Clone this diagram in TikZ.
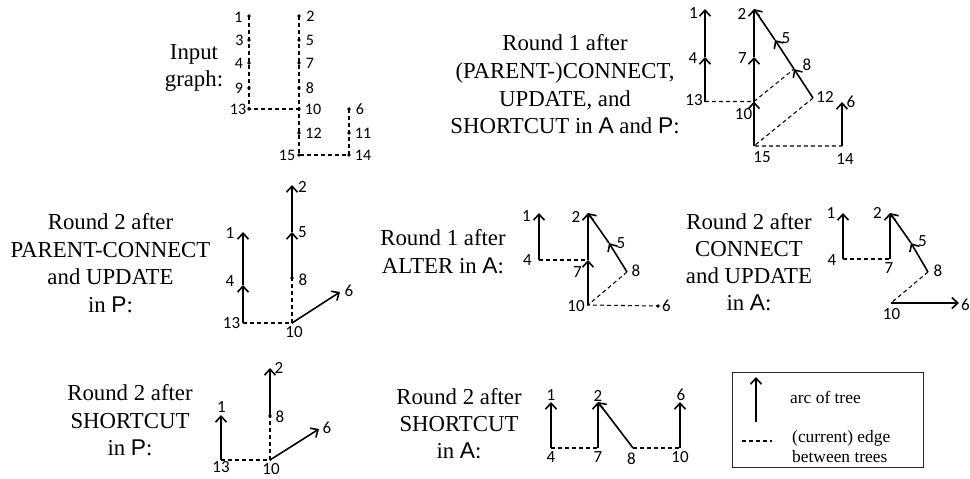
\documentclass[tikz,border=0pt]{standalone}
\usepackage{fontspec}
\setmainfont{Liberation Serif}
\newfontfamily\numfont{Carlito}
\newfontfamily\arialfont{Liberation Sans}
\usetikzlibrary{arrows.meta,calc}
\newcommand{\sfA}{{\arialfont A}}
\newcommand{\sfP}{{\arialfont P}}
\newcommand{\vtx}[4]{\coordinate (#1) at (#2); \node[num] (#1-l) at ($(#1)+(#4)$) {#3};}
\begin{document}
\begin{tikzpicture}[x=1pt,y=-1pt,
  ttl/.style={font=\rmfamily\fontsize{22.8}{27}\selectfont, anchor=base, inner sep=0pt},
  lgd/.style={font=\rmfamily\fontsize{17.4}{20}\selectfont, anchor=base west, inner sep=0pt},
  num/.style={font=\numfont\fontsize{17}{17}\selectfont, inner sep=0pt},
  arc/.style={line width=1.6pt, -{Straight Barb[length=6pt,width=11pt]}},
  cur/.style={line width=1.05pt, dash pattern=on 4pt off 3pt},
  vdot/.style={circle, fill, inner sep=0pt, minimum size=3.6pt}]
\useasboundingbox (0,0) rectangle (970,479);

% ---------- titles ----------
\node[ttl] (t1a) at (194,59) {Input};
\node[ttl] (t1b) at (194,86) {graph:};

\node[ttl] (t2a) at (565,50) {Round 1 after};
\node[ttl] (t2b) at (565,78) {(PARENT-)CONNECT,};
\node[ttl] (t2c) at (565,106) {UPDATE, and};
\node[ttl] (t2d) at (565,133) {SHORTCUT in \sfA\ and \sfP:};

\node[ttl] (t3a) at (110.5,229) {Round 2 after};
\node[ttl] (t3b) at (110.5,257) {PARENT-CONNECT};
\node[ttl] (t3c) at (110.5,284) {and UPDATE};
\node[ttl] (t3d) at (110.5,312) {in \sfP:};

\node[ttl] (t4a) at (443,245) {Round 1 after};
\node[ttl] (t4b) at (443,273) {ALTER in \sfA:};

\node[ttl] (t5a) at (749,229) {Round 2 after};
\node[ttl] (t5b) at (749,256) {CONNECT};
\node[ttl] (t5c) at (749,283) {and UPDATE};
\node[ttl] (t5d) at (749,310) {in \sfA:};

\node[ttl] (t6a) at (130,400) {Round 2 after};
\node[ttl] (t6b) at (130,428) {SHORTCUT};
\node[ttl] (t6c) at (130,455) {in \sfP:};

\node[ttl] (t7a) at (459,404) {Round 2 after};
\node[ttl] (t7b) at (459,431) {SHORTCUT};
\node[ttl] (t7c) at (459,458) {in \sfA:};

% ---------- input graph ----------
\begin{scope}[num/.style={font=\numfont\fontsize{16}{16}\selectfont, inner sep=0pt}]
\vtx{a1}{249,16}{1}{-10.5,1}
\vtx{a3}{249,40}{3}{-9.5,0}
\vtx{a4}{249,63}{4}{-10,0}
\vtx{a9}{249,88}{9}{-10,0}
\vtx{a13}{249,109}{13}{-11,0}
\vtx{a2}{299,16}{2}{11.5,0}
\vtx{a5}{299,40}{5}{11,0}
\vtx{a7}{299,63}{7}{11,0}
\vtx{a8}{299,88}{8}{11,0}
\vtx{a10}{299,109}{10}{14,0}
\vtx{a12}{299,133}{12}{14.5,0}
\vtx{a15}{299,155}{15}{-12,0}
\vtx{a6}{349,109}{6}{11,0}
\vtx{a11}{349,133}{11}{14,0}
\vtx{a14}{349,155}{14}{14,0}
\end{scope}
\draw[cur] (a1)--(a3)--(a4)--(a9)--(a13)--(a10);
\draw[cur] (a2)--(a5)--(a7)--(a8)--(a10)--(a12)--(a15)--(a14);
\draw[cur] (a6)--(a11)--(a14);
\foreach \v in {a1,a3,a4,a9,a13,a2,a5,a7,a8,a10,a12,a15,a6,a11,a14}
  \node[vdot] (\v-d) at (\v) {};

% ---------- round 1 after connect/update/shortcut ----------
\vtx{b1}{705,9}{1}{-11.5,4}
\vtx{b4}{705,57}{4}{-12,1}
\vtx{b13}{705,101.5}{13}{-11,-1}
\vtx{b2}{754,9}{2}{-12,5}
\vtx{b7}{754,57}{7}{-11.5,1}
\vtx{b10}{754,101.5}{10}{-10.5,13}
\vtx{b15}{754,146}{15}{8,11.5}
\vtx{b5}{775,40}{5}{11,-2}
\vtx{b8}{794,69}{8}{13,-4}
\vtx{b12}{813,98}{12}{12,-1}
\vtx{b6}{842,102}{6}{9,0}
\vtx{b14}{842,146}{14}{3,13}
\draw[cur] (b13)--(b10)--(b8);
\draw[cur] (b12)--(b15)--(b14);
\draw[arc] (b13)--(b4);
\draw[arc] (b4)--(b1);
\draw[arc] (b15)--(b10);
\draw[arc] (b10)--(b7);
\draw[arc] (b7)--(b2);
\draw[arc] (b12)--(b8);
\draw[arc] (b8)--(b5);
\draw[arc] (b5)--(b2);
\draw[arc] (b14)--(b6);

% ---------- round 2 after parent-connect and update in P ----------
\vtx{c1}{243,232}{1}{-13,1.5}
\vtx{c4}{243,285}{4}{-13,-4}
\vtx{c13}{243,323}{13}{-11.5,0}
\vtx{c2}{292,185}{2}{10.5,2}
\vtx{c5}{292,232}{5}{10.5,0}
\vtx{c8}{292,278}{8}{11,2}
\vtx{c10}{292,323}{10}{2,9.5}
\vtx{c6}{340,292}{6}{9,-1}
\draw[cur] (c13)--(c10)--(c8);
\draw[arc] (c13)--(c4);
\draw[arc] (c4)--(c1);
\draw[arc] (c8)--(c5);
\draw[arc] (c5)--(c2);
\draw[arc] (c10)--(c6);
\node[vdot] (c8-d) at (c8) {};

% ---------- round 1 after alter in A ----------
\vtx{d1}{539,213}{1}{-12.5,3}
\vtx{d4}{539,260}{4}{-11.5,0}
\vtx{d2}{588,213}{2}{-12,4}
\vtx{d7}{588,260}{7}{-10.5,12}
\vtx{d10}{588,305}{10}{-12,1}
\vtx{d5}{609,243}{5}{12,0}
\vtx{d8}{627,272}{8}{9,-1}
\vtx{d6}{658,306}{6}{8.5,0}
\draw[cur] (d4)--(d7);
\draw[cur] (d8)--(d10)--(d6);
\draw[arc] (d4)--(d1);
\draw[arc] (d10)--(d7);
\draw[arc] (d7)--(d2);
\draw[arc] (d8)--(d5);
\draw[arc] (d5)--(d2);
\node[vdot] (d6-d) at (d6) {};

% ---------- round 2 after connect and update in A ----------
\vtx{e1}{843,213}{1}{-12,0}
\vtx{e4}{843,259}{4}{-11,1}
\vtx{e2}{890,213}{2}{-12.5,0}
\vtx{e7}{890,259}{7}{-1,9}
\vtx{e5}{911,243}{5}{11.5,-2}
\vtx{e8}{928,272}{8}{10,-1}
\vtx{e10}{891,303}{10}{0.5,11}
\vtx{e6}{959,303}{6}{6.5,2}
\draw[cur] (e4)--(e7);
\draw[cur] (e8)--(e10);
\draw[arc] (e4)--(e1);
\draw[arc] (e7)--(e2);
\draw[arc] (e8)--(e5);
\draw[arc] (e5)--(e2);
\draw[arc] (e10)--(e6);

% ---------- round 2 after shortcut in P ----------
\vtx{f1}{221,415}{1}{0.5,-8}
\vtx{f13}{221,460}{13}{0,7.5}
\vtx{f2}{270,368}{2}{9,0}
\vtx{f8}{270,416}{8}{10,1}
\vtx{f10}{270,460}{10}{1,9}
\vtx{f6}{319,429}{6}{8,-1}
\draw[cur] (f13)--(f10)--(f8);
\draw[arc] (f13)--(f1);
\draw[arc] (f8)--(f2);
\draw[arc] (f10)--(f6);
\node[vdot] (f8-d) at (f8) {};

% ---------- round 2 after shortcut in A ----------
\vtx{g1}{551,402}{1}{0,-7}
\vtx{g4}{551,448}{4}{0,9}
\vtx{g2}{598,402}{2}{0,-6}
\vtx{g7}{598,448}{7}{0,9}
\vtx{g8}{633,448}{8}{-1.5,11}
\vtx{g10}{680,448}{10}{0,9.5}
\vtx{g6}{680,402}{6}{1,-7}
\draw[cur] (g4)--(g7);
\draw[cur] (g8)--(g10);
\draw[arc] (g4)--(g1);
\draw[arc] (g7)--(g2);
\draw[arc] (g8)--(g2);
\draw[arc] (g10)--(g6);

% ---------- legend ----------
\node[draw=black!85, line width=1pt, minimum width=191pt, minimum height=95pt,
      inner sep=0pt, anchor=north west] (legend) at (732,372) {};
\coordinate (la1) at (756,422);
\coordinate (la2) at (756,377);
\draw[arc] (la1)--(la2);
\coordinate (ld1) at (742,441);
\coordinate (ld2) at (772,441);
\draw[cur] (ld1)--(ld2);
\node[lgd] (lt1) at (790,403) {arc of tree};
\node[lgd] (lt2) at (792,442) {(current) edge};
\node[lgd] (lt3) at (792,462) {between trees};
\end{tikzpicture}
\end{document}
